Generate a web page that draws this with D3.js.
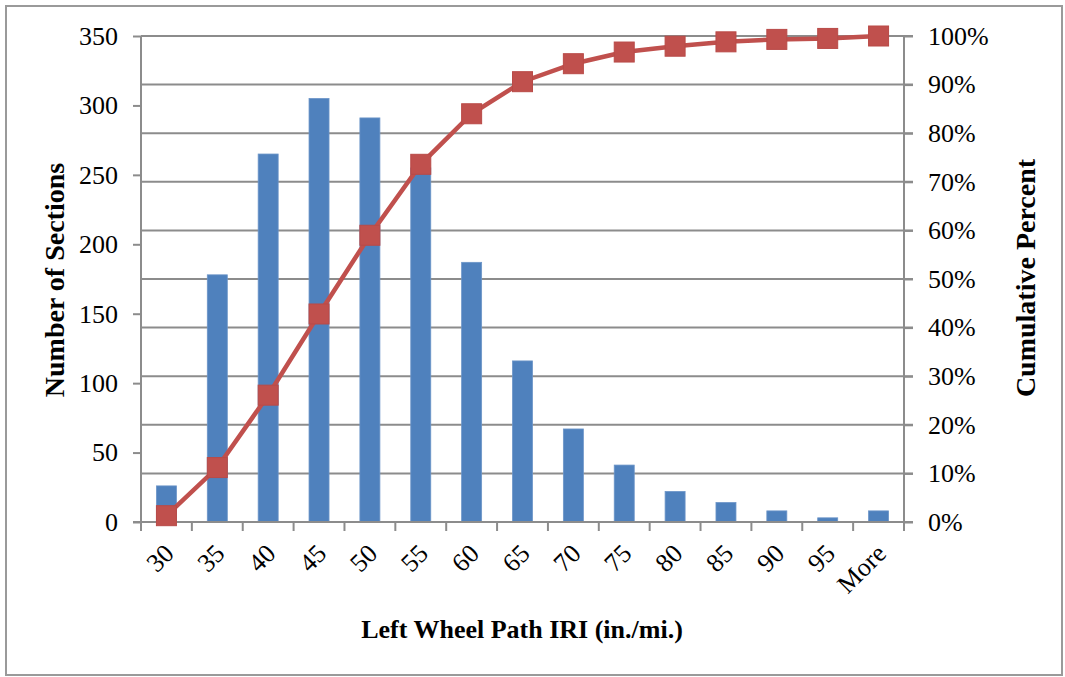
<!DOCTYPE html>
<html lang="en">
<head>
    <meta charset="UTF-8">
    <title>Left Wheel Path IRI</title>
    <script src="https://cdn.jsdelivr.net/npm/d3@7"></script>
    <style>
        body { margin: 0; background: #fff; }
        #chart text { font-family: "Liberation Serif", "Times New Roman", serif; fill: #000; }
    </style>
</head>
<body>
    <div id="chart"></div>
    <script>
        // data
        const categories = ["30", "35", "40", "45", "50", "55", "60", "65", "70", "75", "80", "85", "90", "95", "More"];
        const sections = [26, 178, 265, 305, 291, 255, 187, 116, 67, 41, 22, 14, 8, 3, 8];
        const cumulative = [1.3, 11.2, 26.1, 42.8, 59.0, 73.6, 84.0, 90.6, 94.3, 96.7, 97.9, 98.8, 99.3, 99.5, 100];
        const leftTicks = [0, 50, 100, 150, 200, 250, 300, 350];
        const rightTicks = [0, 10, 20, 30, 40, 50, 60, 70, 80, 90, 100];

        const width = 1065, height = 677;
        const plot = { left: 141, right: 904, top: 36, bottom: 522 };
        const gray = "#8c8c8c";

        const svg = d3.select("#chart")
            .append("svg")
            .attr("width", width)
            .attr("height", height);

        // outer frame
        svg.append("rect")
            .attr("x", 6).attr("y", 6)
            .attr("width", 1056).attr("height", 669)
            .attr("fill", "none")
            .attr("stroke", "#9a9a9a")
            .attr("stroke-width", 2);

        const x = d3.scaleBand()
            .domain(categories)
            .range([plot.left, plot.right]);
        const yLeft = d3.scaleLinear().domain([0, 350]).range([plot.bottom, plot.top]);
        const yRight = d3.scaleLinear().domain([0, 100]).range([plot.bottom, plot.top]);

        // gridlines follow the right axis
        svg.append("g")
            .selectAll("line")
            .data(rightTicks)
            .join("line")
            .attr("x1", plot.left)
            .attr("x2", plot.right + 9)
            .attr("y1", d => yRight(d))
            .attr("y2", d => yRight(d))
            .attr("stroke", gray)
            .attr("stroke-width", 2);

        // bars
        const barW = 20;
        svg.append("g")
            .selectAll("rect")
            .data(sections)
            .join("rect")
            .attr("x", (d, i) => x(categories[i]) + x.bandwidth() / 2 - barW / 2)
            .attr("y", d => yLeft(d))
            .attr("width", barW)
            .attr("height", d => yLeft(0) - yLeft(d))
            .attr("fill", "#4f81bd")
            .attr("stroke", "#6c95c8")
            .attr("stroke-width", 0.8);

        // left axis
        const leftAxis = svg.append("g")
            .attr("transform", `translate(${plot.left},0)`)
            .call(d3.axisLeft(yLeft).tickValues(leftTicks).tickSize(8).tickPadding(15));
        leftAxis.selectAll("text").attr("font-size", 26).attr("font-family", "Liberation Serif");

        // right axis
        const rightAxis = svg.append("g")
            .attr("transform", `translate(${plot.right},0)`)
            .call(d3.axisRight(yRight).tickValues(rightTicks).tickSize(9).tickPadding(15)
                .tickFormat(d => d + "%"));
        rightAxis.selectAll("text").attr("font-size", 26).attr("font-family", "Liberation Serif");

        // bottom axis with ticks at band edges
        const bottomAxis = svg.append("g")
            .attr("transform", `translate(0,${plot.bottom})`)
            .call(d3.axisBottom(x).tickSize(0).tickPadding(0));
        bottomAxis.selectAll(".tick text")
            .attr("font-size", 26)
            .attr("font-family", "Liberation Serif")
            .attr("text-anchor", "end")
            .attr("dy", 0)
            .attr("transform", "translate(9,33) rotate(-45)");
        bottomAxis.append("g")
            .selectAll("line")
            .data(categories.map(c => x(c)).concat([plot.right]))
            .join("line")
            .attr("x1", d => d).attr("x2", d => d)
            .attr("y1", 0).attr("y2", 9)
            .attr("stroke", gray)
            .attr("stroke-width", 2);

        [leftAxis, rightAxis, bottomAxis].forEach(g => {
            g.select(".domain").attr("stroke", gray).attr("stroke-width", 2);
            g.selectAll(".tick line").attr("stroke", gray).attr("stroke-width", 2);
        });
        leftAxis.select(".domain").attr("d", `M0,${plot.top}V${plot.bottom}`);
        rightAxis.select(".domain").attr("d", `M0,${plot.top}V${plot.bottom}`);
        bottomAxis.select(".domain").attr("d", `M${plot.left - 8},0H${plot.right}`);

        // cumulative line
        const line = d3.line()
            .x((d, i) => x(categories[i]) + x.bandwidth() / 2)
            .y(d => yRight(d));
        svg.append("path")
            .datum(cumulative)
            .attr("d", line)
            .attr("fill", "none")
            .attr("stroke", "#c0504d")
            .attr("stroke-width", 4.5);

        const mk = 20;
        svg.append("g")
            .selectAll("rect")
            .data(cumulative)
            .join("rect")
            .attr("x", (d, i) => x(categories[i]) + x.bandwidth() / 2 - mk / 2)
            .attr("y", d => yRight(d) - mk / 2)
            .attr("width", mk)
            .attr("height", mk)
            .attr("fill", "#c0504d")
            .attr("stroke", "#b94a47")
            .attr("stroke-width", 1);

        // axis titles
        svg.append("text")
            .attr("transform", `translate(64,${(plot.top + plot.bottom) / 2 + 1}) rotate(-90)`)
            .attr("text-anchor", "middle")
            .attr("font-size", 28)
            .attr("font-weight", "bold")
            .text("Number of Sections");

        svg.append("text")
            .attr("transform", `translate(1035,${(plot.top + plot.bottom) / 2 - 1}) rotate(-90)`)
            .attr("text-anchor", "middle")
            .attr("font-size", 28)
            .attr("font-weight", "bold")
            .text("Cumulative Percent");

        svg.append("text")
            .attr("x", 522)
            .attr("y", 638)
            .attr("text-anchor", "middle")
            .attr("font-size", 26)
            .attr("font-weight", "bold")
            .text("Left Wheel Path IRI (in./mi.)");
    </script>
</body>
</html>
